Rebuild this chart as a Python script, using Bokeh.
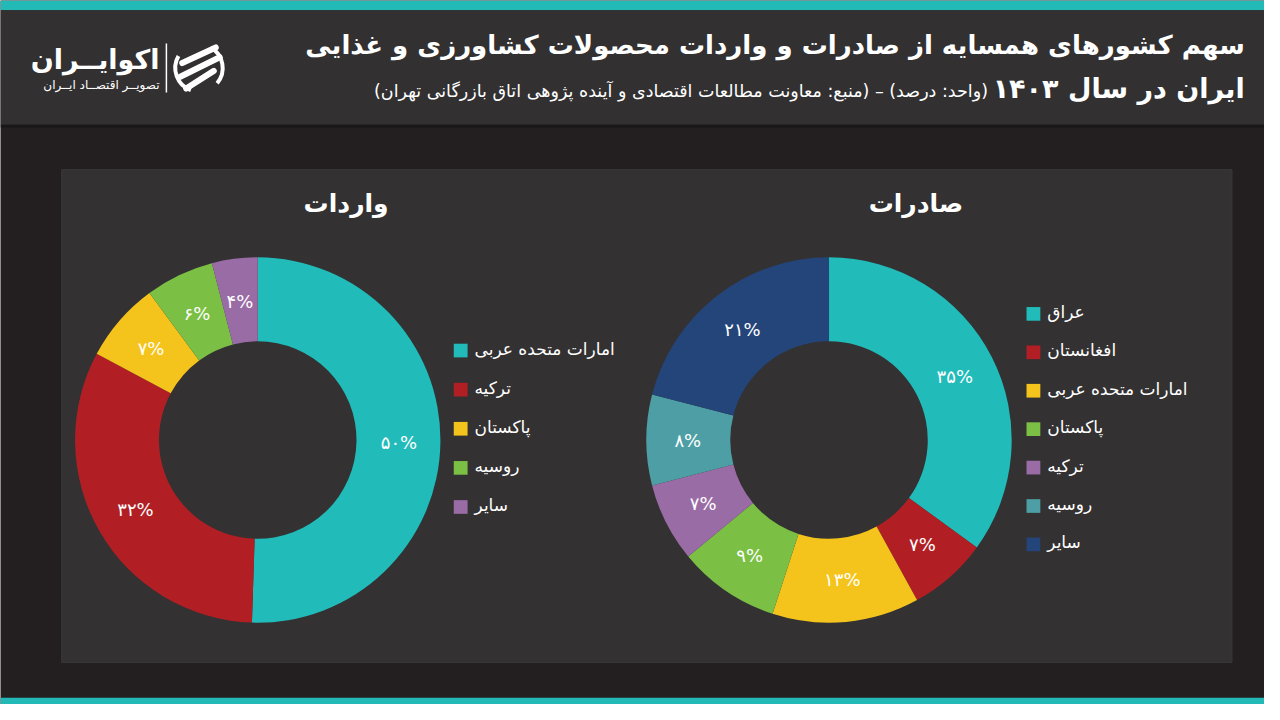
import math
from bokeh.plotting import figure
from bokeh.models import Range1d, ColumnDataSource
from bokeh.core.properties import value
from bokeh.embed import file_html
from bokeh.resources import INLINE

# ---------------- data ----------------
export_countries = ["عراق", "افغانستان", "امارات متحده عربی", "پاکستان", "ترکیه", "روسیه", "سایر"]
export_values = [35, 7, 13, 9, 7, 8, 21]
export_colors = ["#21bbb9", "#b11f24", "#f4c41c", "#7bbf45", "#9a6ca6", "#4d9fa5", "#24457a"]

import_countries = ["امارات متحده عربی", "ترکیه", "پاکستان", "روسیه", "سایر"]
import_values = [50, 32, 7, 6, 4]
import_colors = ["#21bbb9", "#b11f24", "#f4c41c", "#7bbf45", "#9a6ca6"]

title_line1 = "سهم کشورهای همسایه از صادرات و واردات محصولات کشاورزی و غذایی"
title_line2 = "ایران در سال ۱۴۰۳"
subtitle = "\u200f(واحد: درصد) – (منبع: معاونت مطالعات اقتصادی و آینده پژوهی اتاق بازرگانی تهران)\u200f"
export_title = "صادرات"
import_title = "واردات"
logo_name = "اکوایــران"
logo_sub = "تصویــر اقتصــاد ایــران"

PERSIAN = str.maketrans("0123456789", "۰۱۲۳۴۵۶۷۸۹")
FONT = "DejaVu Sans"

W, H = 1264, 704
p = figure(width=W, height=H, output_backend="svg", toolbar_location=None,
           x_range=Range1d(0, 1280), y_range=Range1d(0, 720), min_border=0)
p.axis.visible = False
p.grid.visible = False
p.outline_line_color = None
p.background_fill_color = "#231f20"
p.border_fill_color = "#231f20"


def Y(v):
    return 720 - v


# ---------------- background blocks ----------------
p.quad(left=[0], right=[1280], bottom=[Y(10)], top=[Y(0)], fill_color="#22b9b7", line_color=None)
p.quad(left=[0], right=[1280], bottom=[Y(127)], top=[Y(10)], fill_color="#323031", line_color=None)
p.quad(left=[0], right=[1280], bottom=[Y(130)], top=[Y(127)], fill_color="#1a1718", line_color=None)
p.quad(left=[0], right=[1280], bottom=[Y(720)], top=[Y(713)], fill_color="#22b9b7", line_color=None)
# panel
p.quad(left=[62], right=[1247], bottom=[Y(677)], top=[Y(173)], fill_color="#333132",
       line_color="#3b393a", line_width=1)

# ---------------- header texts ----------------
p.text(x=[1260], y=[Y(45)], text=[title_line1], text_font=value(FONT), text_font_style="bold",
       text_font_size="26px", text_color="white", text_align="right", text_baseline="middle")
p.text(x=[1260], y=[Y(90)], text=[title_line2], text_font=value(FONT), text_font_style="bold",
       text_font_size="27px", text_color="white", text_align="right", text_baseline="middle")
p.text(x=[1000], y=[Y(93)], text=[subtitle], text_font=value(FONT),
       text_font_size="17.5px", text_color="white", text_align="right", text_baseline="middle")

# logo
p.text(x=[161], y=[Y(60)], text=[logo_name], text_font=value(FONT), text_font_style="bold",
       text_font_size="27px", text_color="white", text_align="right", text_baseline="middle")
p.text(x=[161], y=[Y(86)], text=[logo_sub], text_font=value(FONT),
       text_font_size="12px", text_color="white", text_align="right", text_baseline="middle")
p.segment(x0=[168], y0=[Y(44)], x1=[168], y1=[Y(94)], line_color="white", line_width=1.5)
p.segment(x0=[184, 182, 188], y0=[Y(64), Y(78), Y(90)], x1=[218, 222, 216],
          y1=[Y(48), Y(58), Y(72)], line_color="white", line_width=6, line_cap="round")
p.arc(x=[201], y=[Y(69)], radius=24, start_angle=math.radians(150), end_angle=math.radians(250),
      line_color="white", line_width=4)
p.arc(x=[201], y=[Y(69)], radius=24, start_angle=math.radians(-40), end_angle=math.radians(60),
      line_color="white", line_width=4)

# ---------------- donuts ----------------
R_IN, R_OUT, R_LAB = 100, 185, 143


def donut(cx, cy, names, vals, colors, leg_x, leg_y0, leg_dy, title, title_x):
    total = float(sum(vals))
    starts, ends, lx, ly, labels = [], [], [], [], []
    cum = 0.0
    for v in vals:
        a0 = math.pi / 2 - 2 * math.pi * cum / total
        a1 = math.pi / 2 - 2 * math.pi * (cum + v) / total
        am = (a0 + a1) / 2
        starts.append(a0)
        ends.append(a1)
        lx.append(cx + R_LAB * math.cos(am))
        ly.append(Y(cy) + R_LAB * math.sin(am))
        labels.append(str(v).translate(PERSIAN) + "%")
        cum += v
    src = ColumnDataSource(dict(x=[cx] * len(vals), y=[Y(cy)] * len(vals), s=starts, e=ends, c=colors))
    p.annular_wedge(x="x", y="y", inner_radius=R_IN, outer_radius=R_OUT, start_angle="s",
                    end_angle="e", direction="clock", fill_color="c", line_color=None, source=src)
    p.text(x=lx, y=ly, text=labels, text_font=value(FONT), text_font_size="18px",
           text_color="white", text_align="center", text_baseline="middle")
    # legend
    n = len(names)
    ys = [Y(leg_y0 + i * leg_dy) for i in range(n)]
    p.rect(x=[leg_x] * n, y=ys, width=14, height=14, fill_color=colors, line_color=None)
    p.text(x=[leg_x + 14] * n, y=[v + 2 for v in ys], text=names, text_font=value(FONT),
           text_font_size="17px", text_color="white", text_align="left", text_baseline="middle")
    p.text(x=[title_x], y=[Y(208)], text=[title], text_font=value(FONT), text_font_style="bold",
           text_font_size="25px", text_color="white", text_align="center", text_baseline="middle")


donut(839, 449.5, export_countries, export_values, export_colors, 1046, 320.5, 39.3,
      export_title, 927)
donut(260.5, 449.5, import_countries, import_values, import_colors, 466, 358, 40,
      import_title, 350)

open("out.html", "w").write(file_html(p, INLINE))
